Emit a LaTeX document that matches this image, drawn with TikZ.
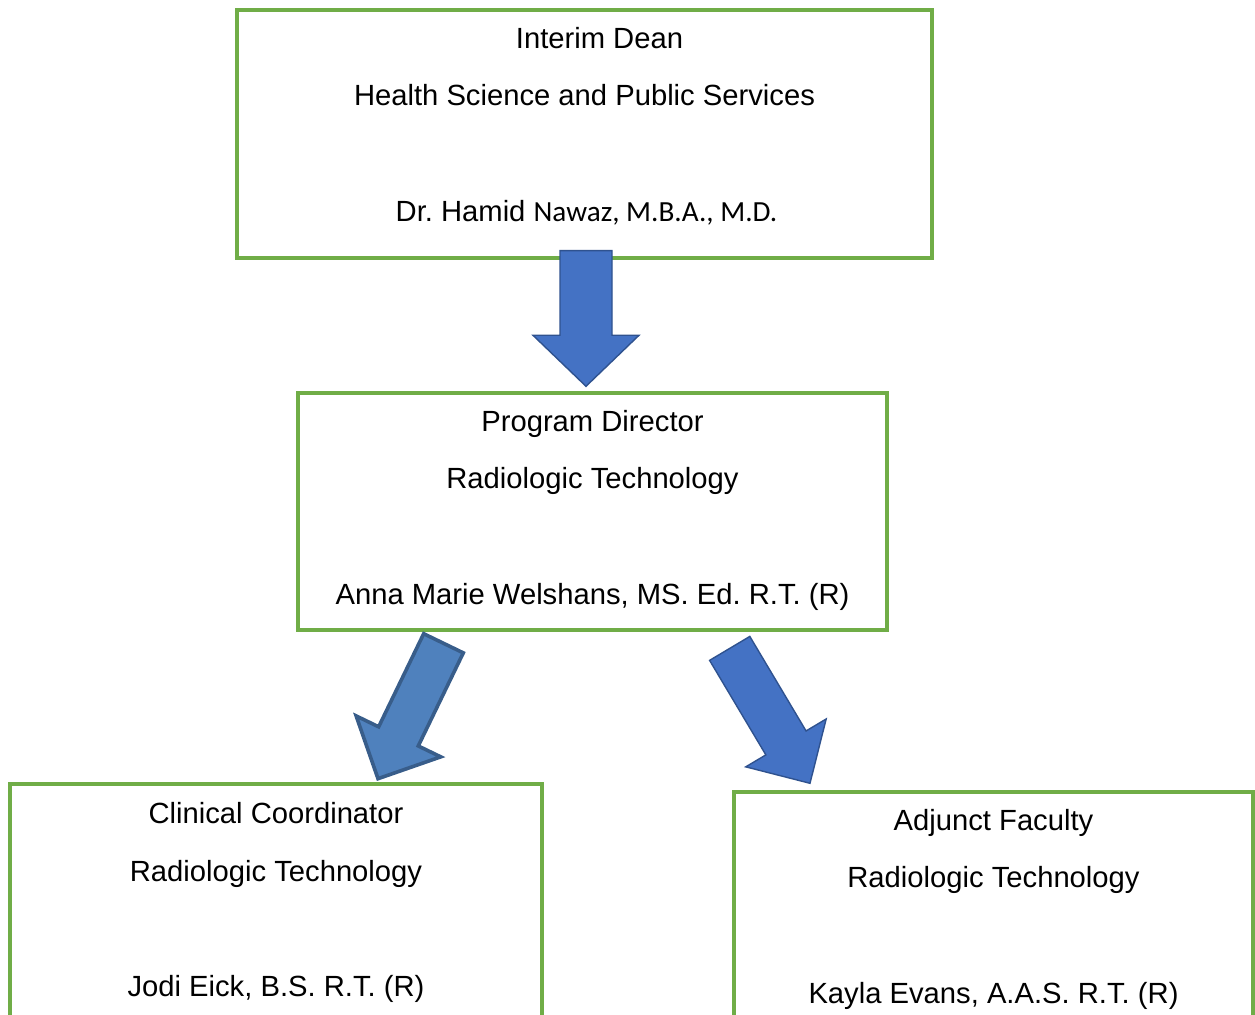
\documentclass[tikz,border=0pt]{standalone}
\usepackage{fontspec}
\setmainfont{Liberation Sans}
\newfontfamily\calibri{Carlito}
\usepackage{tikz}
\usetikzlibrary{positioning, calc}
\usepackage{xcolor}
\definecolor{leaf}{HTML}{70AD47}
\definecolor{royal}{HTML}{4472C4}
\definecolor{royaledge}{HTML}{2F528F}
\definecolor{steel}{HTML}{4F81BD}
\definecolor{steeledge}{HTML}{385D8A}
\frenchspacing

% block arrow: style, tail, tip, half shaft, half head, head length
\newcommand{\orgarrow}[6]{%
  \coordinate (#2-hd) at ($(#3)!#6!(#2)$);
  \draw[#1] ($(#2)!#4!90:(#3)$) -- ($(#2-hd)!#4!90:(#3)$) -- ($(#2-hd)!#5!90:(#3)$) -- (#3)
    -- ($(#2-hd)!#5!-90:(#3)$) -- ($(#2-hd)!#4!-90:(#3)$) -- ($(#2)!#4!-90:(#3)$) -- cycle;
}

\begin{document}
\begin{tikzpicture}[
    x=0.5pt, y=-0.5pt,
    orgbox/.style={draw=leaf, line width=1.7pt, rectangle, inner sep=0pt},
    txt/.style={anchor=base, inner sep=0pt, font=\fontsize{14.6}{17}\selectfont},
    blk/.style={fill=royal, draw=royaledge, line width=0.7pt},
    blkdark/.style={fill=steel, draw=steeledge, line width=1.8pt}
]
\useasboundingbox (0,0) rectangle (1255,1015);

% Boxes
\node[orgbox, minimum width=347.5pt, minimum height=124pt] (dean) at (584.5,134) {};
\node[orgbox, minimum width=294.5pt, minimum height=118.5pt] (dir) at (592.5,511.5) {};
\node[orgbox, minimum width=266pt, minimum height=128pt] (clin) at (276,912) {};
\node[orgbox, minimum width=259.5pt, minimum height=128pt] (adj) at (993.5,920) {};

% Dean
\node[txt] (dean1) at ([xshift=7.5pt, yshift=-20pt]dean.north) {Interim Dean};
\node[txt] (dean2) at ([yshift=-48.5pt]dean.north) {Health Science and Public Services};
\node[txt] (dean3) at ([xshift=1pt, yshift=-106.5pt]dean.north) {Dr. Hamid {\calibri Nawaz, M.B.A., M.D.}};

% Program director
\node[txt] (dir1) at ([yshift=-20pt]dir.north) {Program Director};
\node[txt] (dir2) at ([yshift=-48.75pt]dir.north) {Radiologic Technology};
\node[txt] (dir3) at ([yshift=-106.5pt]dir.north) {Anna Marie Welshans, MS. Ed. R.T. (R)};

% Clinical coordinator
\node[txt] (clin1) at ([yshift=-20.5pt]clin.north) {Clinical Coordinator};
\node[txt] (clin2) at ([yshift=-49.5pt]clin.north) {Radiologic Technology};
\node[txt] (clin3) at ([yshift=-107pt]clin.north) {Jodi Eick, B.S. R.T. (R)};

% Adjunct faculty
\node[txt] (adj1) at ([yshift=-20pt]adj.north) {Adjunct Faculty};
\node[txt] (adj2) at ([yshift=-48.5pt]adj.north) {Radiologic Technology};
\node[txt] (adj3) at ([yshift=-106.5pt]adj.north) {Kayla Evans, A.A.S. R.T. (R)};

% Arrows
\coordinate (a1) at ([xshift=0.75pt, yshift=4.5pt]dean.south);
\coordinate (b1) at ([xshift=-3.25pt, yshift=2.5pt]dir.north);
\coordinate (a2) at ([xshift=-74.5pt, yshift=-5.8pt]dir.south);
\coordinate (b2) at ([xshift=51pt, yshift=1.8pt]clin.north);
\coordinate (a3) at ([xshift=68.6pt, yshift=-8.35pt]dir.south);
\coordinate (b3) at ([xshift=-91.75pt, yshift=3.5pt]adj.north);

\orgarrow{blk}{a1}{b1}{13pt}{26.5pt}{25.5pt}
\orgarrow{blkdark}{a2}{b2}{11pt}{23.5pt}{23.5pt}
\orgarrow{blk}{a3}{b3}{11.7pt}{23.4pt}{23.5pt}

\end{tikzpicture}
\end{document}
